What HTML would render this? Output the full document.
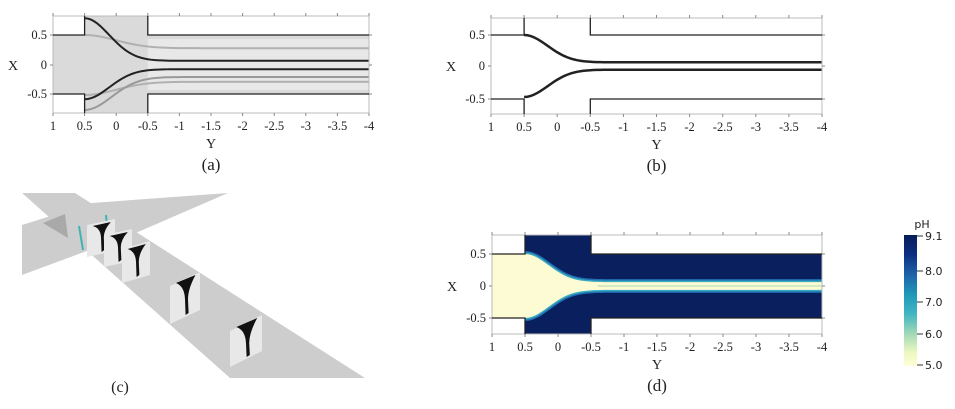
<!DOCTYPE html><html><head><meta charset="utf-8"><style>html,body{margin:0;padding:0;background:#fff;width:955px;height:409px;overflow:hidden}svg{display:block}text{font-family:"Liberation Serif",serif;fill:#222}</style></head><body>
<svg id="s" width="955" height="409" viewBox="0 0 955 409" xmlns="http://www.w3.org/2000/svg">
<defs>
<linearGradient id="cb" x1="0" y1="0" x2="0" y2="1">
<stop offset="0" stop-color="#081d58"/><stop offset="0.15" stop-color="#0b2f82"/><stop offset="0.3" stop-color="#1d62a8"/><stop offset="0.45" stop-color="#2196b8"/><stop offset="0.6" stop-color="#40b5c4"/><stop offset="0.75" stop-color="#9fd8b8"/><stop offset="0.9" stop-color="#eef8c0"/><stop offset="1" stop-color="#fffed8"/>
</linearGradient>
</defs>
<g id="c">
<polygon points="22,225 92,203 228,193 138,232 22,275" fill="#cdcdcd"/>
<polygon points="22,193 75,193 365,378 230,378" fill="#cdcdcd"/>
<polygon points="43,223 65,214 68,238" fill="#a9a9a9"/>
<line x1="79" y1="226" x2="83" y2="250" stroke="#3fb3b3" stroke-width="2"/>
<line x1="106" y1="215" x2="107" y2="226" stroke="#3fb3b3" stroke-width="2"/>
<text x="120" y="392" font-size="16" text-anchor="middle">(c)</text>
</g>
<text x="922" y="228" font-size="11" text-anchor="middle" style="font-family:'DejaVu Sans',sans-serif">pH</text>
<rect x="904" y="235" width="13" height="131" fill="url(#cb)"/>
<g font-size="11">
<line x1="917" y1="236" x2="923" y2="236" stroke="#333"/><text x="925" y="240" style="font-family:'DejaVu Sans',sans-serif">9.1</text>
<line x1="917" y1="271" x2="923" y2="271" stroke="#333"/><text x="925" y="275" style="font-family:'DejaVu Sans',sans-serif">8.0</text>
<line x1="917" y1="302" x2="923" y2="302" stroke="#333"/><text x="925" y="306" style="font-family:'DejaVu Sans',sans-serif">7.0</text>
<line x1="917" y1="334" x2="923" y2="334" stroke="#333"/><text x="925" y="338" style="font-family:'DejaVu Sans',sans-serif">6.0</text>
<line x1="917" y1="365" x2="923" y2="365" stroke="#333"/><text x="925" y="369" style="font-family:'DejaVu Sans',sans-serif">5.0</text>
</g>
</svg>
<script>
var s=document.getElementById('s'),NS='http://www.w3.org/2000/svg';
function el(t,a,txt){var e=document.createElementNS(NS,t);for(var k in a)e.setAttribute(k,a[k]);if(txt)e.textContent=txt;s.appendChild(e);return e;}
function slice(x,y,w,h,sk){el('polygon',{points:[x,y+sk,x+w,y,x+w,y+h-sk,x,y+h].join(','),fill:'#e8e8e8'});
var top=y+sk*0.5+2;
el('path',{d:'M'+(x+0.2*w)+','+(top+2)+' L'+(x+0.85*w)+','+(top-sk*0.5+1)+' Q'+(x+0.6*w)+','+(top+0.15*h)+' '+(x+0.6*w)+','+(top+0.35*h)+' L'+(x+0.62*w)+','+(y+h-sk*0.5-4)+' L'+(x+0.52*w)+','+(y+h-sk*0.5-2)+' L'+(x+0.5*w)+','+(top+0.35*h)+' Q'+(x+0.48*w)+','+(top+0.1*h)+' '+(x+0.2*w)+','+(top+2)+'Z',fill:'#111'});}
slice(87,219,28,38,6);slice(104,229,28,38,6);slice(122,241,28,42,8);slice(170,272,30,52,14);slice(230,315,32,52,16);
function panel(o){
 var x0=o.x0,x1=o.x1,yt=o.yt,yb=o.yb,y5=o.y5,y0=o.y0,yn=o.yn;
 var sx=(x1-x0)/5,px=function(Y){return x0+sx*(1-Y)},py=function(X){return y0-(y0-y5)*X/0.5};
 var shape=[x0,y5,px(0.5),y5,px(0.5),yt,px(-0.5),yt,px(-0.5),y5,x1,y5,x1,yn,px(-0.5),yn,px(-0.5),yb,px(0.5),yb,px(0.5),yn,x0,yn].join(',');
 function curve(a,b,c,sg){var r=[];for(var i=0;i<=90;i++){var Y=0.5-i*0.05,X=a+b*Math.exp(-Math.pow((0.5-Y)/c,2));r.push(px(Y)+','+py(sg*X));}return r;}
 if(o.kind=='a'){el('rect',{x:x0,y:yt,width:x1-x0,height:yb-yt,fill:'#fff'});
  el('polygon',{points:shape,fill:'#dadada'});
  el('rect',{x:px(-0.5),y:y5+4,width:x1-px(-0.5),height:yn-y5-8,fill:'#e8e8e8'});
  el('polyline',{points:curve(0.28,0.22,0.7,1).join(' '),fill:'none',stroke:'#b0b0b0','stroke-width':2});
  el('polyline',{points:curve(0.28,0.22,0.7,-1).join(' '),fill:'none',stroke:'#b0b0b0','stroke-width':2});
  el('polyline',{points:curve(0.07,0.71,0.55,1).join(' '),fill:'none',stroke:'#222','stroke-width':2});
  el('polyline',{points:curve(0.07,0.5,0.55,-1).join(' '),fill:'none',stroke:'#222','stroke-width':2});
  el('polyline',{points:curve(0.2,0.55,0.6,-1).join(' '),fill:'none',stroke:'#999','stroke-width':2});
 }
 var up=curve(0.06,0.44,0.5,1),dn=curve(0.06,0.44,0.5,-1);
 if(o.kind=='d'){el('polygon',{points:shape,fill:'#0a1f5e'});
  var pts=[x0+','+y5].concat(up).concat(dn.slice().reverse()).concat([x0+','+yn]);
  el('polyline',{points:up.join(' '),fill:'none',stroke:'#1f6fb0','stroke-width':6});
  el('polyline',{points:dn.join(' '),fill:'none',stroke:'#1f6fb0','stroke-width':6});
  el('polyline',{points:up.join(' '),fill:'none',stroke:'#39a9c2','stroke-width':3});
  el('polyline',{points:dn.join(' '),fill:'none',stroke:'#39a9c2','stroke-width':3});
  el('polygon',{points:pts.join(' '),fill:'#fdfbd3'});
  el('line',{x1:px(-0.6),y1:y0,x2:x1,y2:y0,stroke:'#a8dcae','stroke-width':1});}
 if(o.kind=='b'){el('polyline',{points:up.join(' '),fill:'none',stroke:'#222','stroke-width':2.5});el('polyline',{points:dn.join(' '),fill:'none',stroke:'#222','stroke-width':2.5});}
 if(o.kind!='d'){el('rect',{x:x0,y:yt,width:px(0.5)-x0,height:y5-yt,fill:'#fff'});el('rect',{x:x0,y:yn,width:px(0.5)-x0,height:yb-yn,fill:'#fff'});
  el('rect',{x:px(-0.5),y:yt,width:x1-px(-0.5),height:y5-yt,fill:'#fff'});el('rect',{x:px(-0.5),y:yn,width:x1-px(-0.5),height:yb-yn,fill:'#fff'});}
 el('rect',{x:x0,y:yt,width:x1-x0,height:yb-yt,fill:'none',stroke:'#bbb','stroke-width':1});
 var wall='M'+x0+','+y5+'H'+px(0.5)+'V'+yt+'M'+px(-0.5)+','+yt+'V'+y5+'H'+x1+'M'+x0+','+yn+'H'+px(0.5)+'V'+yb+'M'+px(-0.5)+','+yb+'V'+yn+'H'+x1;
 el('path',{d:wall,fill:'none',stroke:'#222','stroke-width':1.3});
 var lab=['1','0.5','0','-0.5','-1','-1.5','-2','-2.5','-3','-3.5','-4'];
 for(var i=0;i<11;i++){var xx=x0+i*sx/2;el('line',{x1:xx,y1:yb,x2:xx,y2:yb+3,stroke:'#888'});el('line',{x1:xx,y1:yt,x2:xx,y2:yt-3,stroke:'#888'});
  el('text',{x:xx,y:yb+17,'font-size':12.5,'text-anchor':'middle'},lab[i]);}
 [[y5,'0.5'],[y0,'0'],[yn,'-0.5']].forEach(function(a){el('text',{x:x0-6,y:a[0]+4,'font-size':12.5,'text-anchor':'end'},a[1]);el('line',{x1:x0-3,y1:a[0],x2:x0,y2:a[0],stroke:'#888'});el('line',{x1:x1,y1:a[0],x2:x1+3,y2:a[0],stroke:'#888'});});
 el('text',{x:x0-40,y:y0+5,'font-size':14,'text-anchor':'middle'},'X');
 el('text',{x:(x0+x1)/2,y:yb+35,'font-size':14,'text-anchor':'middle'},'Y');
 el('text',{x:(x0+x1)/2,y:yb+57,'font-size':17,'text-anchor':'middle'},o.l);
}
panel({kind:'a',x0:53,x1:369,yt:16,yb:113,y5:35,y0:65,yn:94,l:'(a)'});
panel({kind:'b',x0:491,x1:822,yt:18,yb:114,y5:35,y0:66,yn:99,l:'(b)'});
panel({kind:'d',x0:492,x1:822,yt:235,yb:334,y5:254,y0:286,yn:318,l:'(d)'});
</script>
</body></html>
